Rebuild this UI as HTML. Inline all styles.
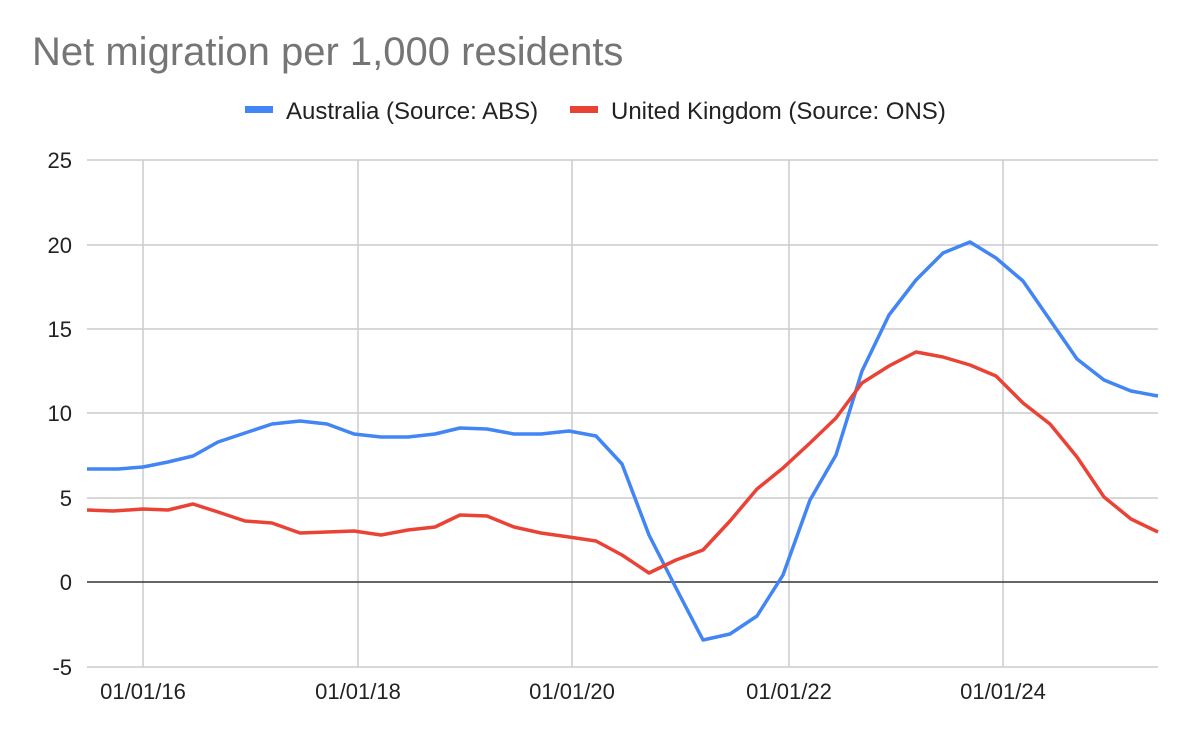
<!DOCTYPE html>
<html><head><style>
body{margin:0;background:#fff;}
svg{display:block;font-family:"Liberation Sans",Arial,sans-serif;}
</style></head><body>
<svg width="1190" height="732" viewBox="0 0 1190 732">
<rect width="1190" height="732" fill="#fff"/>
<text x="32" y="65" font-size="40" fill="#757575">Net migration per 1,000 residents</text>
<rect x="245" y="106" width="28" height="7" fill="#4285f4"/>
<text x="286" y="119" font-size="24" fill="#222">Australia (Source: ABS)</text>
<rect x="570" y="106" width="28" height="7" fill="#ea4335"/>
<text x="611" y="119" font-size="24" fill="#222">United Kingdom (Source: ONS)</text>
<g stroke="#ccc" stroke-width="1.5">
<line x1="87" y1="160" x2="1158" y2="160"/>
<line x1="87" y1="245" x2="1158" y2="245"/>
<line x1="87" y1="329" x2="1158" y2="329"/>
<line x1="87" y1="413" x2="1158" y2="413"/>
<line x1="87" y1="498" x2="1158" y2="498"/>
<line x1="87" y1="667" x2="1158" y2="667"/>
<line x1="143" y1="160" x2="143" y2="667"/>
<line x1="358" y1="160" x2="358" y2="667"/>
<line x1="572" y1="160" x2="572" y2="667"/>
<line x1="789" y1="160" x2="789" y2="667"/>
<line x1="1003" y1="160" x2="1003" y2="667"/>
</g>
<line x1="87" y1="582" x2="1158" y2="582" stroke="#333" stroke-width="1.5"/>
<g font-size="22" fill="#222" text-anchor="end">
<text x="72" y="168">25</text><text x="72" y="253">20</text><text x="72" y="337">15</text>
<text x="72" y="421">10</text><text x="72" y="506">5</text><text x="72" y="590">0</text><text x="72" y="675">-5</text>
</g>
<g font-size="22" fill="#222" text-anchor="middle">
<text x="143" y="699">01/01/16</text><text x="358" y="699">01/01/18</text><text x="572" y="699">01/01/20</text>
<text x="789" y="699">01/01/22</text><text x="1003" y="699">01/01/24</text>
</g>
<polyline fill="none" stroke="#4285f4" stroke-width="3.5" stroke-linejoin="round" points="87,469 118,469 143,467 168,462 193,456 218,442 245,433 272,424 300,421 327,424 354,434 381,437 408,437 435,434 460,428 487,429 514,434 541,434 569,431 596,436 622,464 649,535 676,588 703,640 730,634 757,616 783,575 810,500 836,455 862,371 889,315 916,280 943,253 970,242 996,258 1023,281 1050,320 1077,359 1104,380 1131,391 1158,396"/>
<polyline fill="none" stroke="#ea4335" stroke-width="3.5" stroke-linejoin="round" points="87,510 113,511 143,509 168,510 193,504 218,512 245,521 272,523 300,533 327,532 354,531 381,535 408,530 435,527 460,515 487,516 514,527 541,533 569,537 596,541 622,555 649,573 676,560 703,550 730,521 757,489 783,468 810,443 836,418 862,383 889,366 916,352 943,357 970,365 996,376 1023,403 1050,424 1077,457 1104,497 1131,519 1158,532"/>
</svg>
</body></html>
